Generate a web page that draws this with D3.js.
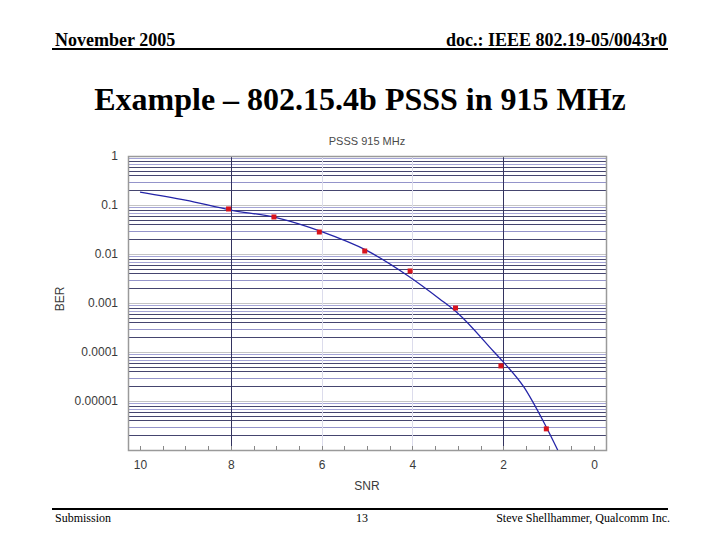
<!DOCTYPE html>
<html>
<head>
<meta charset="utf-8">
<script src="https://cdn.jsdelivr.net/npm/d3@7"></script>
<style>
  body { margin: 0; background: #fff; }
  svg { display: block; }
</style>
</head>
<body>
<svg width="720" height="540"></svg>
<script>
// simulated curve
var curveSNR = [10, 9, 8, 7, 6, 5, 4.1, 3.4, 3, 2.2, 2, 1.55, 1.1, 0.8];
var curveBER = [0.184, 0.126, 0.079, 0.055, 0.0285, 0.0117, 0.0036, 0.00121, 0.00062, 0.0001, 0.000063, 0.0000196, 0.0000036, 0.000001];

// measured points
var pointSNR = [8.05, 7.05, 6.05, 5.05, 4.05, 3.05, 2.05, 1.05];
var pointBER = [0.083, 0.057, 0.0281, 0.0115, 0.0045, 0.00079, 0.000052, 0.0000027];

var xTicks = [10, 8, 6, 4, 2, 0];
var yTicks = [1, 0.1, 0.01, 0.001, 0.0001, 0.00001];

var svg = d3.select("svg");

// slide header / footer
svg.append("text").attr("x", 55).attr("y", 46)
    .attr("font-family", "Liberation Serif").attr("font-weight", "bold").attr("font-size", 18)
    .text("November 2005");
svg.append("text").attr("x", 667).attr("y", 46).attr("text-anchor", "end")
    .attr("font-family", "Liberation Serif").attr("font-weight", "bold").attr("font-size", 18)
    .text("doc.: IEEE 802.19-05/0043r0");
svg.append("line").attr("x1", 52).attr("x2", 668).attr("y1", 49).attr("y2", 49)
    .attr("stroke", "#000").attr("stroke-width", 2);

svg.append("text").attr("x", 360).attr("y", 110).attr("text-anchor", "middle")
    .attr("font-family", "Liberation Serif").attr("font-weight", "bold").attr("font-size", 32)
    .text("Example – 802.15.4b PSSS in 915 MHz");

svg.append("line").attr("x1", 52).attr("x2", 668).attr("y1", 509).attr("y2", 509)
    .attr("stroke", "#000").attr("stroke-width", 2);
svg.append("text").attr("x", 55).attr("y", 522)
    .attr("font-family", "Liberation Serif").attr("font-size", 12)
    .text("Submission");
svg.append("text").attr("x", 362).attr("y", 522).attr("text-anchor", "middle")
    .attr("font-family", "Liberation Serif").attr("font-size", 12)
    .text("13");
svg.append("text").attr("x", 670).attr("y", 522).attr("text-anchor", "end")
    .attr("font-family", "Liberation Serif").attr("font-size", 12)
    .text("Steve Shellhammer, Qualcomm Inc.");

// chart area
var plotLeft = 128, plotRight = 606, plotTop = 156, plotBottom = 450;

var x = d3.scaleLinear().domain([10, 0]).range([140, 594]);
var y = d3.scaleLog().domain([1e-6, 1]).range([plotBottom, plotTop]);

var g = svg.append("g");

// horizontal grid: decades plus 2..9 minors
var minorColor = {9: "#a4a4d6", 8: "#45456f", 7: "#a4a4d6", 6: "#45456f", 5: "#45456f", 4: "#45456f", 3: "#9494ca", 2: "#45456f"};
var gridVals = [];
for (var e = -6; e < 0; e++) {
    for (var k = 2; k <= 9; k++) gridVals.push({v: k * Math.pow(10, e), k: k});
    gridVals.push({v: Math.pow(10, e), k: 1});
}
g.selectAll(".hgrid").data(gridVals).enter().append("line")
    .attr("class", "hgrid")
    .attr("x1", plotLeft).attr("x2", plotRight)
    .attr("y1", d => Math.round(y(d.v)) + 0.5).attr("y2", d => Math.round(y(d.v)) + 0.5)
    .attr("stroke", d => d.k === 1 ? "#c4c4c4" : minorColor[d.k])
    .attr("stroke-width", 1);

// vertical grid
g.selectAll(".vgrid").data([6, 4]).enter().append("line")
    .attr("x1", d => Math.round(x(d)) + 0.5).attr("x2", d => Math.round(x(d)) + 0.5)
    .attr("y1", plotTop).attr("y2", plotBottom)
    .attr("stroke", "#dcdcec");
g.selectAll(".vgrid2").data([8, 2]).enter().append("line")
    .attr("x1", d => Math.round(x(d)) + 0.5).attr("x2", d => Math.round(x(d)) + 0.5)
    .attr("y1", plotTop).attr("y2", plotBottom)
    .attr("stroke", "#33335f");

// frame
g.append("rect").attr("x", plotLeft + 0.5).attr("y", plotTop + 0.5)
    .attr("width", plotRight - plotLeft).attr("height", plotBottom - plotTop)
    .attr("fill", "none").attr("stroke", "#9a9a9a").attr("stroke-width", 1.5);

// small inner ticks along the bottom
g.selectAll(".mtick").data(d3.range(0, 10.01, 0.5)).enter().append("line")
    .attr("x1", d => Math.round(x(d)) + 0.5).attr("x2", d => Math.round(x(d)) + 0.5)
    .attr("y1", plotBottom - 4).attr("y2", plotBottom)
    .attr("stroke", "#888");

// axes
var xAxis = svg.append("g").attr("transform", "translate(0," + plotBottom + ")")
    .call(d3.axisBottom(x).tickValues(xTicks).tickSize(0).tickPadding(10).tickFormat(d3.format("d")));
var yAxis = svg.append("g").attr("transform", "translate(" + plotLeft + ",0)")
    .call(d3.axisLeft(y).tickValues(yTicks).tickSize(0).tickPadding(10).tickFormat(d => d.toString()));
[xAxis, yAxis].forEach(a => {
    a.select(".domain").remove();
    a.selectAll("text").attr("font-family", "Liberation Sans").attr("font-size", 12).attr("fill", "#3a3a3a");
});

svg.append("text").attr("x", 367).attr("y", 490).attr("text-anchor", "middle")
    .attr("font-family", "Liberation Sans").attr("font-size", 12).attr("fill", "#3a3a3a")
    .text("SNR");
svg.append("text").attr("transform", "translate(64,299) rotate(-90)").attr("text-anchor", "middle")
    .attr("font-family", "Liberation Sans").attr("font-size", 12).attr("fill", "#3a3a3a")
    .text("BER");
svg.append("text").attr("x", 367).attr("y", 145).attr("text-anchor", "middle")
    .attr("font-family", "Liberation Sans").attr("font-size", 11).attr("fill", "#4a4a4a")
    .text("PSSS 915 MHz");

// curve
var line = d3.line()
    .x(d => x(d[0])).y(d => y(d[1]))
    .curve(d3.curveMonotoneX);
g.append("path").datum(d3.zip(curveSNR, curveBER))
    .attr("d", line)
    .attr("fill", "none").attr("stroke", "#2424a8").attr("stroke-width", 1.3);

// points
g.selectAll(".pt").data(d3.zip(pointSNR, pointBER)).enter().append("rect")
    .attr("x", d => x(d[0]) - 2.5).attr("y", d => y(d[1]) - 2.5)
    .attr("width", 5).attr("height", 5)
    .attr("fill", "#d8141c");
</script>
</body>
</html>
